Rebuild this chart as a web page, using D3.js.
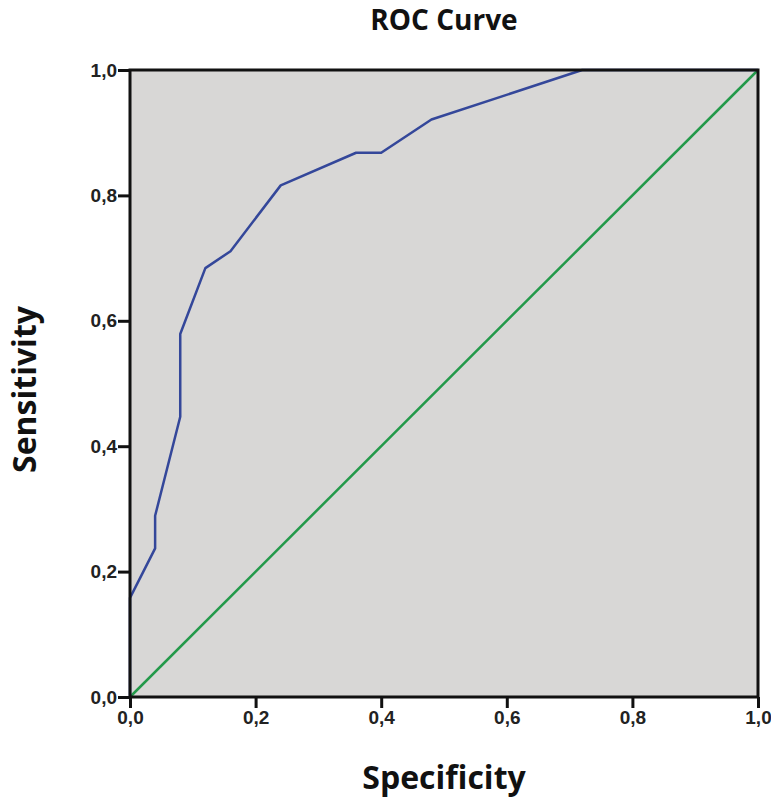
<!DOCTYPE html>
<html>
<head>
<meta charset="utf-8">
<script src="https://cdn.jsdelivr.net/npm/d3@7"></script>
<style>
  body { margin: 0; background: #fff; }
  svg { display: block; }
</style>
</head>
<body>
<div id="chart"></div>
<script>
// ROC curve points (1 - specificity on x, sensitivity on y)
const rocX = [0, 0, 0.04, 0.04, 0.08, 0.08, 0.12, 0.16, 0.24, 0.36, 0.40, 0.48, 0.72, 1.0];
const rocY = [0, 0.158, 0.237, 0.289, 0.447, 0.579, 0.684, 0.711, 0.816, 0.868, 0.868, 0.921, 1.0, 1.0];
// reference line
const refX = [0, 1];
const refY = [0, 1];
const tickValues = [0, 0.2, 0.4, 0.6, 0.8, 1.0];

const width = 771;
const height = 798;
const margin = { top: 70, right: 13, bottom: 101, left: 130 };

const svg = d3.select('#chart')
    .append('svg')
    .attr('width', width)
    .attr('height', height);

const xScale = d3.scaleLinear()
    .domain([0, 1])
    .range([margin.left, width - margin.right]);

const yScale = d3.scaleLinear()
    .domain([0, 1])
    .range([height - margin.bottom, margin.top]);

const fmt = d => d3.format('.1f')(d).replace('.', ',');

// plot background
svg.append('rect')
    .attr('x', xScale(0))
    .attr('y', yScale(1))
    .attr('width', xScale(1) - xScale(0))
    .attr('height', yScale(0) - yScale(1))
    .attr('fill', '#d8d7d6');

const line = d3.line()
    .x(d => xScale(d[0]))
    .y(d => yScale(d[1]));

// diagonal reference
svg.append('path')
    .attr('d', line(d3.zip(refX, refY)))
    .attr('fill', 'none')
    .attr('stroke', '#23994a')
    .attr('stroke-width', 2.5);

// ROC curve
svg.append('path')
    .attr('d', line(d3.zip(rocX, rocY)))
    .attr('fill', 'none')
    .attr('stroke', '#34479a')
    .attr('stroke-width', 2.5)
    .attr('stroke-linejoin', 'round');

// frame
svg.append('rect')
    .attr('x', xScale(0))
    .attr('y', yScale(1))
    .attr('width', xScale(1) - xScale(0))
    .attr('height', yScale(0) - yScale(1))
    .attr('fill', 'none')
    .attr('stroke', '#111')
    .attr('stroke-width', 3);

// axes
const xAxis = svg.append('g')
    .attr('transform', `translate(0,${yScale(0)})`)
    .call(d3.axisBottom(xScale).tickValues(tickValues).tickFormat(fmt).tickSize(11).tickPadding(3));

const yAxis = svg.append('g')
    .attr('transform', `translate(${xScale(0)},0)`)
    .call(d3.axisLeft(yScale).tickValues(tickValues).tickFormat(fmt).tickSize(12).tickPadding(1));

[xAxis, yAxis].forEach(ax => {
    ax.select('.domain').remove();
    ax.selectAll('.tick line').attr('stroke', '#111').attr('stroke-width', 3);
    ax.selectAll('.tick text')
        .attr('fill', '#222')
        .style('font-family', '"Liberation Sans", Arial, sans-serif')
        .style('font-weight', 'bold')
        .style('font-size', '19px');
});

// titles
const plotCx = (xScale(0) + xScale(1)) / 2;
const plotCy = (yScale(0) + yScale(1)) / 2;

svg.append('text')
    .attr('x', plotCx)
    .attr('y', 30)
    .text('ROC Curve')
    .attr('text-anchor', 'middle')
    .style('font-family', '"Open Sans", sans-serif')
    .style('font-weight', 'bold')
    .style('font-size', '28px')
    .style('fill', '#111');

svg.append('text')
    .attr('x', plotCx)
    .attr('y', 789)
    .text('Specificity')
    .attr('text-anchor', 'middle')
    .style('font-family', '"Open Sans", sans-serif')
    .style('font-weight', 'bold')
    .style('font-size', '32px')
    .style('fill', '#111');

svg.append('text')
    .attr('transform', `translate(36,${plotCy + 6}) rotate(-90)`)
    .text('Sensitivity')
    .attr('text-anchor', 'middle')
    .style('font-family', '"Open Sans", sans-serif')
    .style('font-weight', 'bold')
    .style('font-size', '32px')
    .style('fill', '#111');
</script>
</body>
</html>
